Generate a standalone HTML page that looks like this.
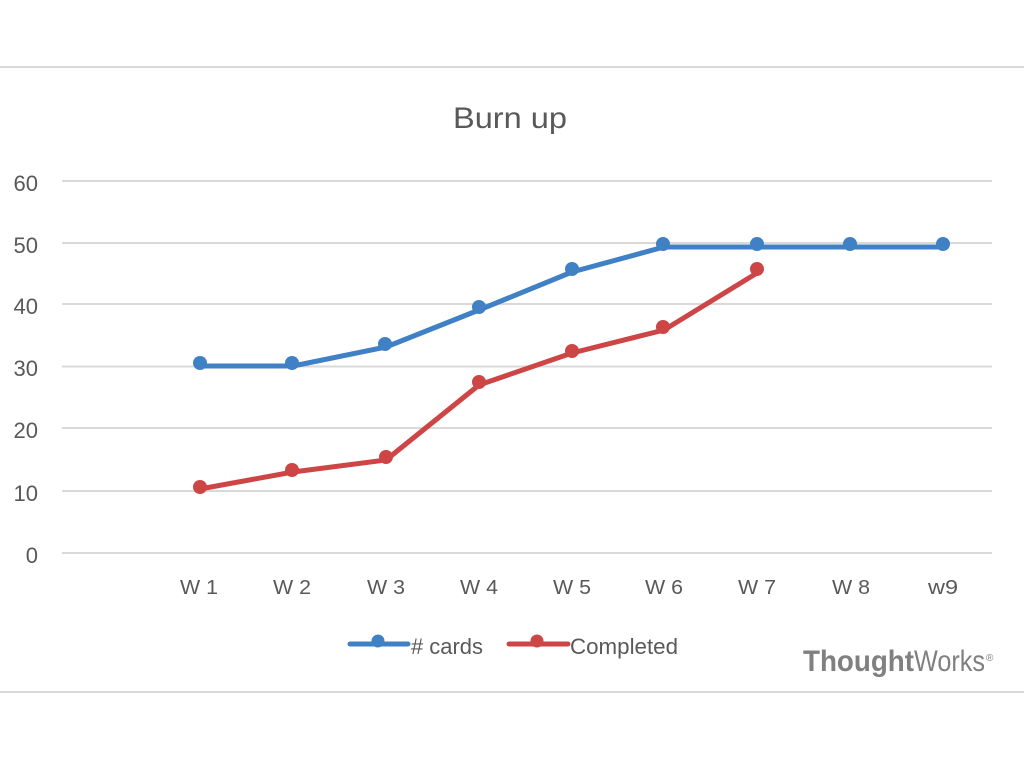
<!DOCTYPE html>
<html>
<head>
<meta charset="utf-8">
<style>
  html, body { margin:0; padding:0; background:#ffffff; }
  body { width:1024px; height:768px; overflow:hidden; }
  svg { display:block; }
  text { font-family: "Liberation Sans", "DejaVu Sans", sans-serif; }
</style>
</head>
<body>
<svg width="1024" height="768" viewBox="0 0 1024 768" xmlns="http://www.w3.org/2000/svg">
  <rect x="0" y="0" width="1024" height="768" fill="#ffffff"/>
  <!-- slide rules -->
  <line x1="0" y1="67" x2="1024" y2="67" stroke="#d9d9d9" stroke-width="2"/>
  <line x1="0" y1="692" x2="1024" y2="692" stroke="#d9d9d9" stroke-width="2"/>

  <!-- title -->
  <text x="510" y="128" font-size="30" fill="#595959" text-anchor="middle" textLength="114" lengthAdjust="spacingAndGlyphs">Burn up</text>

  <!-- gridlines -->
  <g stroke="#d9d9d9" stroke-width="2">
    <line x1="62" y1="181" x2="992" y2="181"/>
    <line x1="62" y1="243" x2="992" y2="243"/>
    <line x1="62" y1="304" x2="992" y2="304"/>
    <line x1="62" y1="366.5" x2="992" y2="366.5"/>
    <line x1="62" y1="428" x2="992" y2="428"/>
    <line x1="62" y1="491" x2="992" y2="491"/>
    <line x1="62" y1="553" x2="992" y2="553"/>
  </g>

  <!-- y labels -->
  <g font-size="22" fill="#595959" text-anchor="end">
    <text x="38" y="191">60</text>
    <text x="38" y="253">50</text>
    <text x="38" y="314">40</text>
    <text x="38" y="376">30</text>
    <text x="38" y="438">20</text>
    <text x="38" y="501">10</text>
    <text x="38" y="563">0</text>
  </g>

  <!-- x labels -->
  <g font-size="20" fill="#595959" text-anchor="middle">
    <text x="199" y="594" textLength="38" lengthAdjust="spacingAndGlyphs">W 1</text>
    <text x="292" y="594" textLength="38" lengthAdjust="spacingAndGlyphs">W 2</text>
    <text x="386" y="594" textLength="38" lengthAdjust="spacingAndGlyphs">W 3</text>
    <text x="479" y="594" textLength="38" lengthAdjust="spacingAndGlyphs">W 4</text>
    <text x="572" y="594" textLength="38" lengthAdjust="spacingAndGlyphs">W 5</text>
    <text x="664" y="594" textLength="38" lengthAdjust="spacingAndGlyphs">W 6</text>
    <text x="757" y="594" textLength="38" lengthAdjust="spacingAndGlyphs">W 7</text>
    <text x="851" y="594" textLength="38" lengthAdjust="spacingAndGlyphs">W 8</text>
    <text x="943" y="594" textLength="30" lengthAdjust="spacingAndGlyphs">w9</text>
  </g>

  <!-- blue series -->
  <polyline fill="none" stroke="#4080c4" stroke-width="5" stroke-linejoin="round" stroke-linecap="round"
    points="200,366 293,366 386,347 479,310 572,272 664,247 757,247 850,247 943,247"/>
  <g fill="#4080c4">
    <circle cx="200" cy="363" r="7"/>
    <circle cx="292" cy="363" r="7"/>
    <circle cx="385" cy="344" r="7"/>
    <circle cx="479" cy="307" r="7"/>
    <circle cx="572" cy="269" r="7"/>
    <circle cx="663" cy="244" r="7"/>
    <circle cx="757" cy="244" r="7"/>
    <circle cx="850" cy="244" r="7"/>
    <circle cx="943" cy="244" r="7"/>
  </g>

  <!-- red series -->
  <polyline fill="none" stroke="#cd4545" stroke-width="5" stroke-linejoin="round" stroke-linecap="round"
    points="200,489 293,472 386,460 479,385 572,353 664,330 757,273"/>
  <g fill="#cd4545">
    <circle cx="200" cy="487" r="7"/>
    <circle cx="292" cy="470" r="7"/>
    <circle cx="386" cy="457" r="7"/>
    <circle cx="479" cy="382" r="7"/>
    <circle cx="572" cy="351" r="7"/>
    <circle cx="663" cy="327" r="7"/>
    <circle cx="757" cy="269" r="7"/>
  </g>

  <!-- legend -->
  <line x1="350" y1="644" x2="408" y2="644" stroke="#4080c4" stroke-width="5" stroke-linecap="round"/>
  <circle cx="378" cy="641" r="6.5" fill="#4080c4"/>
  <text x="411" y="654" font-size="22" fill="#595959" textLength="72" lengthAdjust="spacingAndGlyphs"># cards</text>

  <line x1="509" y1="644" x2="568" y2="644" stroke="#cd4545" stroke-width="5" stroke-linecap="round"/>
  <circle cx="537" cy="641" r="6.5" fill="#cd4545"/>
  <text x="570" y="654" font-size="22" fill="#595959" textLength="108" lengthAdjust="spacingAndGlyphs">Completed</text>

  <!-- ThoughtWorks logo -->
  <text x="803" y="671" font-size="30" font-weight="bold" fill="#808080" textLength="111" lengthAdjust="spacingAndGlyphs">Thought</text>
  <text x="914" y="671" font-size="30" fill="#808080" textLength="71" lengthAdjust="spacingAndGlyphs">Works</text>
  <text x="986" y="661" font-size="10" fill="#808080">®</text>
</svg>
</body>
</html>
